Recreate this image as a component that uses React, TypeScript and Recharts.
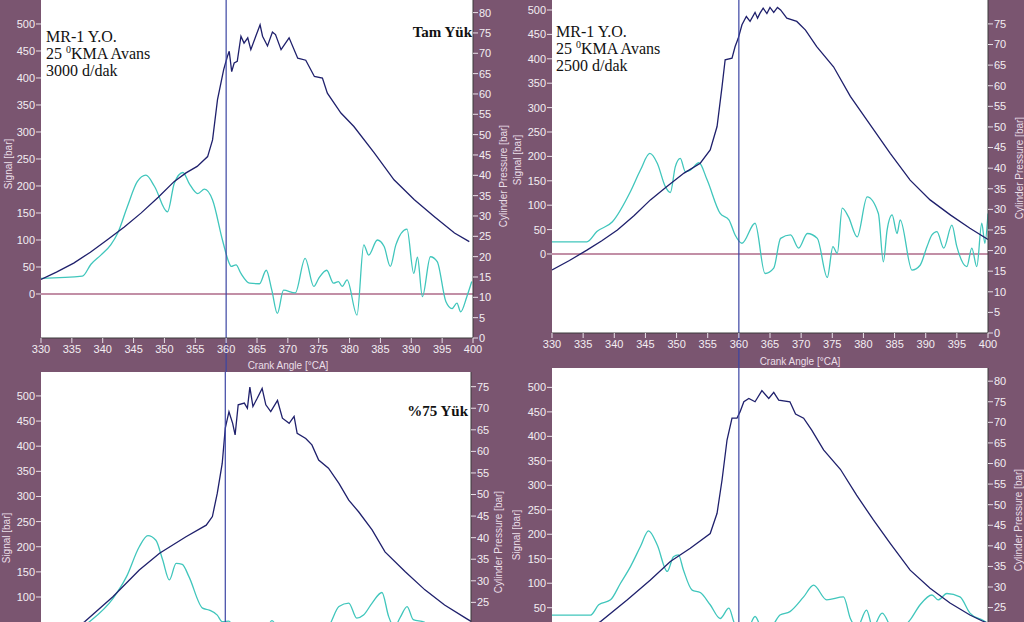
import React from "react";
import {
  CartesianGrid,
  Customized,
  Line,
  LineChart,
  ReferenceLine,
  XAxis,
  YAxis,
} from "recharts";

const angleTicks = [330, 335, 340, 345, 350, 355, 360, 365, 370, 375, 380, 385, 390, 395, 400];
const signalTicks = [0, 50, 100, 150, 200, 250, 300, 350, 400, 450, 500];
const pressureTicks80 = [0, 5, 10, 15, 20, 25, 30, 35, 40, 45, 50, 55, 60, 65, 70, 75, 80];
const pressureTicks75 = [0, 5, 10, 15, 20, 25, 30, 35, 40, 45, 50, 55, 60, 65, 70, 75];

// top left: 3000 d/dak, Tam Yük
const tlPressureAngle = [330, 332.5, 335.3, 338, 340.7, 343.5, 346.2, 349, 351.6, 353.5, 355.3, 357, 357.8, 358.6, 359.6, 360.2, 360.5, 360.9, 361.3, 361.8, 362.4, 362.9, 363.5, 364, 364.8, 365.5, 365.9, 366.7, 367.5, 368, 368.9, 370.2, 371.6, 372.9, 374.3, 375.6, 376.4, 378.6, 380.7, 384, 387.2, 390.5, 393.7, 397, 399.4];
const tlPressure = [14.4, 16.2, 18.4, 21.1, 24.1, 27.3, 30.7, 34.6, 38.5, 40.6, 42.2, 44.6, 48.7, 58.6, 66, 69.2, 70.5, 65.5, 67.6, 68, 74.2, 72.5, 73.8, 70.9, 74.2, 77, 74.2, 71.8, 75.2, 74.6, 70.9, 73.8, 68.8, 68.3, 64.3, 63.9, 60.2, 55.3, 52, 45.5, 38.9, 34, 29.9, 25.8, 23.7];
const tlSignalAngle = [330, 336.7, 338.1, 339.7, 341.3, 342.4, 344, 345.6, 347, 348.4, 350.5, 351.6, 353, 354, 355.4, 356.5, 357.8, 359.4, 360.5, 360.8, 361.6, 362.4, 363.8, 365.4, 366.5, 367.4, 368.3, 369.3, 371.2, 372.8, 374.2, 375, 376.3, 377.4, 378.2, 378.8, 379.6, 381.2, 382.3, 383.1, 384.5, 385.6, 386.6, 387.5, 389.3, 390.4, 391, 391.8, 393.1, 394.2, 395.6, 396.6, 397.4, 398, 399, 399.8];
const tlSignal = [29, 33, 55, 72, 91, 112, 162, 208, 220, 199, 152, 205, 225, 205, 186, 194, 174, 100, 57, 51, 54, 38, 20, 19, 44, 7, -36, 7, 2, 66, 14, 29, 44, 20, 23, 14, 26, -39, 91, 72, 100, 88, 51, 91, 120, 38, 68, -5, 69, 60, -14, -27, -17, -33, -5, 23];

// top right: 2500 d/dak
const trPressureAngle = [330, 332.8, 335.6, 338, 340.5, 343.2, 345.8, 348.5, 351.2, 353.8, 355.4, 356.5, 357.3, 357.8, 358.9, 359.4, 359.9, 360.5, 361.2, 361.8, 362.6, 363, 363.4, 363.9, 364.5, 365, 365.6, 366.2, 366.7, 367.7, 369.3, 370.7, 372.5, 375.2, 377.9, 381.1, 384.3, 387.5, 390.7, 394, 397.1, 400];
const trPressure = [15.3, 17.6, 20.1, 22.4, 25, 28.5, 32.3, 35.6, 38.8, 41.2, 44.4, 50.1, 59.8, 66.3, 66.7, 69.5, 71.5, 74.8, 76.8, 75.6, 77.8, 76.4, 77.6, 78.8, 77.5, 79, 77.8, 79, 78.4, 76.4, 75.6, 73.5, 69.5, 64.6, 57.4, 50.5, 43.6, 37.1, 32.3, 28.6, 25.4, 22.7];
const trSignalAngle = [330, 335.6, 337.2, 339.7, 342.6, 344.2, 345.7, 346.9, 348.2, 349, 349.8, 350.6, 351.4, 352.2, 353.6, 354.9, 357, 358.4, 359.4, 360.5, 362.6, 364.2, 365.6, 366.7, 368.3, 369.6, 371, 372.6, 374.2, 375.1, 375.8, 376.6, 377.6, 379, 380.6, 382.4, 383.2, 383.8, 384.6, 385.4, 385.9, 387.8, 389.1, 390.2, 391, 391.8, 392.9, 394.2, 395, 396.6, 397.4, 398.2, 399, 399.5, 400];
const trSignal = [25, 25, 46, 66, 128, 172, 206, 186, 138, 126, 179, 196, 169, 172, 187, 152, 83, 70, 39, 22, 63, -40, -29, 32, 39, 12, 42, 32, -48, 15, 1, 94, 76, 35, 117, 83, -16, 49, 80, 42, 70, -33, -23, 15, 39, 46, 12, 59, 15, -26, 12, -26, 63, 22, 83];

// bottom left: %75 Yük
const blPressureAngle = [330, 333.5, 337.1, 341.7, 346, 349.3, 353.6, 356.9, 357.9, 358.7, 359.5, 360, 360.6, 361.2, 361.6, 362.1, 363.1, 363.6, 364, 364.5, 365.2, 366, 366.6, 367.4, 368.5, 369.3, 370.4, 371.2, 371.7, 373.1, 374.1, 375.2, 376.8, 378.5, 380.1, 381.7, 383.9, 386, 389.3, 392.5, 395.7, 399.2, 400];
const blPressure = [13.8, 16.8, 20.5, 26.3, 32.5, 36.4, 40.2, 42.9, 44.9, 50.3, 57.2, 65.4, 69.2, 66.5, 63.8, 70.8, 71.2, 70, 74.9, 70.4, 72.3, 74.6, 70.8, 69.2, 71.8, 67.7, 66.5, 68.1, 64.2, 63, 61.5, 58, 56.1, 52.6, 48.7, 46, 41.8, 36.7, 32.1, 27.9, 24.4, 21.3, 20.6];
const blSignalAngle = [330, 334, 336.5, 337.9, 341.7, 343.9, 346, 347.4, 348.7, 349.8, 350.9, 352, 353, 354.1, 356.3, 357.4, 358.7, 359.5, 360.6, 362, 364, 366, 367.6, 369, 371, 373, 375, 377, 378.5, 380.1, 381.4, 382.5, 383.9, 385.5, 386.6, 387.5, 388.5, 389.6, 390.6, 392.4, 394, 396, 398, 400];
const blSignal = [28, 30, 38, 51, 97, 140, 200, 222, 213, 174, 134, 167, 165, 140, 78, 74, 64, 51, 52, 25, 40, 20, 53, 25, 10, 30, 15, 45, 81, 88, 58, 64, 88, 109, 61, 40, 60, 81, 55, 50, 20, 35, 10, 25];

// bottom right
const brPressureAngle = [330, 334, 337.8, 342.1, 345.8, 349, 352.2, 355.4, 356.5, 357.3, 358.1, 358.9, 359.7, 360.2, 360.8, 361.6, 362.6, 363.7, 364.8, 365.6, 366.4, 368.2, 369.1, 370.4, 371.7, 373.6, 376.3, 378.9, 381.6, 384.3, 387.5, 390.7, 393.9, 397.1, 399, 400];
const brPressure = [15.5, 18.5, 21.6, 26.9, 31.7, 36.2, 39.4, 43, 47.9, 56, 65.7, 71, 71, 72.6, 75, 75.8, 75, 77.7, 75.8, 77.3, 75.4, 75, 72, 71, 68.1, 63.3, 58.6, 52.3, 46.3, 40.6, 34.1, 29.7, 26.1, 23.2, 21.8, 21.2];
const brSignalAngle = [330, 336.2, 337.5, 339.4, 341, 342.6, 344.2, 345.5, 346.9, 348.5, 349.5, 350.3, 351.1, 352.5, 353.8, 355.4, 357, 358.4, 359.2, 360.5, 361.5, 362.6, 364, 365.5, 366.6, 368.2, 370.4, 372, 374.1, 376.8, 377.9, 379, 380.5, 381.5, 383, 385, 387.5, 389.1, 391, 392, 393.4, 395.5, 397.1, 399.2, 400];
const brSignal = [35, 35, 56, 66, 100, 134, 175, 207, 178, 124, 154, 158, 127, 86, 81, 56, 28, 49, 21, -10, 5, 32, 0, 15, 35, 42, 72, 96, 66, 72, 28, 10, 45, 10, 39, 0, 25, 56, 76, 66, 79, 72, 39, 24, 18];

const PURPLE = "#7a5570";
const NAVY = "#1f206c";
const CYAN = "#40c6bc";
const MAROON = "#86204e";
const VLINE = "#3c45a3";
const TICK_TEXT = "#f3edf2";
const TITLE_TEXT = "#eadfe8";
const SANS = "Liberation Sans, Arial, sans-serif";
const SERIF = "Liberation Serif, Times New Roman, serif";

type Pt = { a: number; v: number };
const zip = (a: number[], v: number[]): Pt[] => a.map((x, i) => ({ a: x, v: v[i] }));
const within = (ticks: number[], d: [number, number]) => ticks.filter((t) => t >= d[0] && t <= d[1]);

const vTitle = (text: string, x: number, y: number) => () => (
  <text
    x={x}
    y={y}
    transform={`rotate(-90 ${x} ${y})`}
    textAnchor="middle"
    dominantBaseline="central"
    fill={TITLE_TEXT}
    fontSize={10}
    fontFamily={SANS}
  >
    {text}
  </text>
);

const hTitle = (text: string, x: number, y: number) => () => (
  <text x={x} y={y} textAnchor="middle" dominantBaseline="central" fill={TITLE_TEXT} fontSize={10} fontFamily={SANS}>
    {text}
  </text>
);

const tickStyle = { fill: TICK_TEXT, fontSize: 11, fontFamily: SANS };

function RunNote({ x, y, rpm }: { x: number; y: number; rpm: string }) {
  return (
    <g fill="#111" fontFamily={SERIF} fontSize={16}>
      <text x={x} y={y}>MR-1 Y.O.</text>
      <text x={x} y={y + 17.4}>
        <tspan>25 </tspan>
        <tspan dy={-6} fontSize={10}>0</tspan>
        <tspan dy={6}>KMA Avans</tspan>
      </text>
      <text x={x} y={y + 34.5}>{rpm}</text>
    </g>
  );
}

type PanelProps = {
  left: number;
  top: number;
  height: number;
  yLeftW: number;
  yRightW: number;
  xH: number;
  sigDomain: [number, number];
  presDomain: [number, number];
  presTicks: number[];
  pressure: Pt[];
  signal: Pt[];
  lineFrom: number;
  sigTitle: [number, number];
  presTitle: [number, number];
  crankTitle?: [number, number];
  note: React.ReactNode;
};

function Panel(p: PanelProps) {
  const hideX = !p.crankTitle;
  return (
    <div style={{ position: "absolute", left: p.left, top: p.top, width: 512, height: p.height }}>
      <LineChart width={512} height={p.height} margin={{ top: 0, right: 0, bottom: 0, left: 0 }}>
        <CartesianGrid yAxisId="left" horizontal={false} vertical={false} fill="#ffffff" fillOpacity={1} />
        <XAxis
          type="number"
          dataKey="a"
          domain={[330, 400]}
          ticks={angleTicks}
          interval={0}
          allowDataOverflow
          hide={hideX}
          height={hideX ? 0 : p.xH}
          tick={tickStyle}
          tickSize={5}
          tickMargin={2}
          tickLine={{ stroke: "#e8e0e8" }}
          axisLine={{ stroke: "#3a3a3a" }}
          label={p.crankTitle ? hTitle("Crank Angle [°CA]", p.crankTitle[0], p.crankTitle[1]) : undefined}
        />
        <YAxis
          yAxisId="left"
          type="number"
          domain={p.sigDomain}
          ticks={within(signalTicks, p.sigDomain)}
          interval={0}
          allowDataOverflow
          width={p.yLeftW}
          tick={tickStyle}
          tickSize={5}
          tickMargin={1}
          tickLine={{ stroke: "#e8e0e8" }}
          axisLine={false}
          label={vTitle("Signal [bar]", p.sigTitle[0], p.sigTitle[1])}
        />
        <YAxis
          yAxisId="right"
          orientation="right"
          type="number"
          domain={p.presDomain}
          ticks={within(p.presTicks, p.presDomain)}
          interval={0}
          allowDataOverflow
          width={p.yRightW}
          tick={tickStyle}
          tickSize={5}
          tickMargin={1}
          tickLine={{ stroke: "#e8e0e8" }}
          axisLine={{ stroke: "#3a3a3a" }}
          label={vTitle("Cylinder Pressure [bar]", p.presTitle[0], p.presTitle[1])}
        />
        <ReferenceLine yAxisId="left" y={0} stroke={MAROON} strokeWidth={1.2} />
        <Line
          yAxisId="left"
          data={p.signal}
          dataKey="v"
          type="monotone"
          dot={false}
          stroke={CYAN}
          strokeWidth={1.3}
          isAnimationActive={false}
        />
        <Line
          yAxisId="right"
          data={p.pressure}
          dataKey="v"
          type="linear"
          dot={false}
          stroke={NAVY}
          strokeWidth={1.3}
          isAnimationActive={false}
        />
        <ReferenceLine
          yAxisId="left"
          segment={[
            { x: 360, y: p.lineFrom },
            { x: 360, y: p.sigDomain[1] },
          ]}
          ifOverflow="visible"
          stroke={VLINE}
          strokeWidth={1.2}
        />
        <Customized component={() => <g>{p.note}</g>} />
      </LineChart>
    </div>
  );
}

export default function App() {
  return (
    <div
      style={{
        position: "fixed",
        left: 0,
        top: 0,
        width: 1024,
        height: 622,
        overflow: "hidden",
        background: PURPLE,
      }}
    >
      <Panel
        left={0}
        top={0}
        height={372}
        yLeftW={41}
        yRightW={39}
        xH={34}
        sigDomain={[-81.5, 544.4]}
        presDomain={[0, 83.1]}
        presTicks={pressureTicks80}
        pressure={zip(tlPressureAngle, tlPressure)}
        signal={zip(tlSignalAngle, tlSignal)}
        lineFrom={-144.4}
        sigTitle={[8, 164]}
        presTitle={[503, 176]}
        crankTitle={[288, 365]}
        note={
          <g>
            <RunNote x={46} y={41.7} rpm="3000  d/dak" />
            <text x={472} y={36.7} textAnchor="end" fill="#111" fontFamily={SERIF} fontSize={15} fontWeight="bold">
              Tam Yük
            </text>
          </g>
        }
      />
      <Panel
        left={512}
        top={0}
        height={368}
        yLeftW={40}
        yRightW={36}
        xH={35}
        sigDomain={[-161.9, 520.5]}
        presDomain={[0, 80.8]}
        presTicks={pressureTicks75}
        pressure={zip(trPressureAngle, trPressure)}
        signal={zip(trSignalAngle, trSignal)}
        lineFrom={-233.6}
        sigTitle={[5, 160]}
        presTitle={[507, 168]}
        crankTitle={[288, 361]}
        note={<RunNote x={44} y={36.7} rpm="2500  d/dak" />}
      />
      <Panel
        left={0}
        top={372}
        height={250}
        yLeftW={41}
        yRightW={41}
        xH={34}
        sigDomain={[50.3, 547.6]}
        presDomain={[20.45, 78.4]}
        presTicks={pressureTicks75}
        pressure={zip(blPressureAngle, blPressure)}
        signal={zip(blSignalAngle, blSignal)}
        lineFrom={50.3}
        sigTitle={[6, 166]}
        presTitle={[498, 170]}
        note={
          <text x={468} y={43.7} textAnchor="end" fill="#111" fontFamily={SERIF} fontSize={15} fontWeight="bold">
            %75 Yük
          </text>
        }
      />
      <Panel
        left={512}
        top={368}
        height={254}
        yLeftW={40}
        yRightW={36}
        xH={35}
        sigDomain={[20.8, 539.6]}
        presDomain={[21.5, 83.2]}
        presTicks={pressureTicks80}
        pressure={zip(brPressureAngle, brPressure)}
        signal={zip(brSignalAngle, brSignal)}
        lineFrom={20.8}
        sigTitle={[4, 167]}
        presTitle={[506, 152]}
        note={null}
      />
    </div>
  );
}
